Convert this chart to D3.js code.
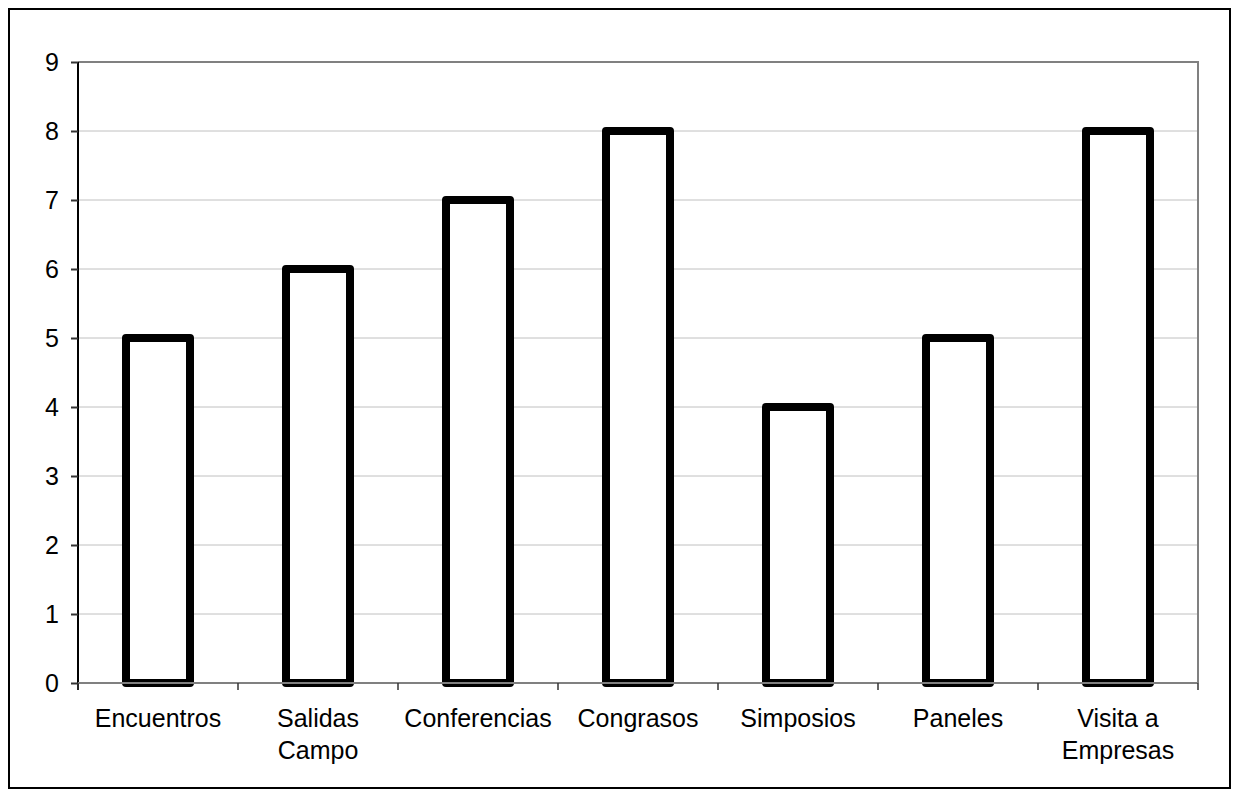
<!DOCTYPE html>
<html><head><meta charset="utf-8">
<script src="https://cdn.jsdelivr.net/npm/d3@7"></script>
<style>html,body{margin:0;padding:0;background:#fff;}svg{display:block;font-family:"Liberation Sans",Arial,sans-serif;}</style>
</head><body>
<svg id="c" width="1239" height="800"></svg>
<script>
const categories = [["Encuentros"],["Salidas","Campo"],["Conferencias"],["Congrasos"],["Simposios"],["Paneles"],["Visita a","Empresas"]];
const values = [5,6,7,8,4,5,8];
const yTicks = [0,1,2,3,4,5,6,7,8,9];

const svg = d3.select("#c");
const L = 78, R = 1198, T = 62, B = 683;
svg.append("rect").attr("x",9).attr("y",9).attr("width",1221).attr("height",779)
  .attr("fill","#fff").attr("stroke","#000").attr("stroke-width",2);

const x = d3.scaleBand().domain(d3.range(categories.length)).range([L,R]).paddingInner(0).paddingOuter(0);
const y = d3.scaleLinear().domain([0,9]).range([B,T]);

// gridlines
svg.append("g").selectAll("line").data(yTicks.filter(d=>d>0&&d<9)).join("line")
  .attr("x1",L).attr("x2",R).attr("y1",d=>y(d)).attr("y2",d=>y(d))
  .attr("stroke","#c0c0c0").attr("stroke-width",1);
// plot border top/right
svg.append("path").attr("d",`M${L},${T}H${R}V${B}`).attr("fill","none").attr("stroke","#808080").attr("stroke-width",2);

// bars
const bw = x.bandwidth()*0.4;
svg.append("g").selectAll("rect").data(values).join("rect")
  .attr("x",(d,i)=>x(i)+x.bandwidth()/2-bw/2).attr("width",bw)
  .attr("y",d=>y(d)).attr("height",d=>y(0)-y(d))
  .attr("fill","#fff").attr("stroke","#000").attr("stroke-width",8).attr("stroke-linejoin","round");

// y axis
const ya = d3.axisLeft(y).tickValues(yTicks).tickSize(7).tickPadding(12).tickFormat(d3.format("d"));
const gy = svg.append("g").attr("transform",`translate(${L},0)`).call(ya);
gy.select(".domain").attr("stroke","#000").attr("stroke-width",2).attr("d",`M0,${T}V${B+7}`);
gy.selectAll(".tick line").attr("stroke","#333").attr("stroke-width",2);
gy.selectAll(".tick text").attr("font-size",25).attr("fill","#000").attr("font-family","Liberation Sans, Arial, sans-serif");

// x axis
const gx = svg.append("g").attr("transform",`translate(0,${B})`);
gx.append("line").attr("x1",L).attr("x2",R).attr("stroke","#808080").attr("stroke-width",2);
const tickPos = d3.range(categories.length+1).map(i=> i<categories.length ? x(i) : R);
gx.selectAll("line.t").data(tickPos).join("line").attr("class","t")
  .attr("x1",d=>d).attr("x2",d=>d).attr("y1",0).attr("y2",7).attr("stroke","#333").attr("stroke-width",1.5);
const lab = gx.selectAll("text").data(categories).join("text")
  .attr("text-anchor","middle").attr("font-size",25).attr("fill","#000")
  .attr("transform",(d,i)=>`translate(${x(i)+x.bandwidth()/2},44)`);
lab.selectAll("tspan").data(d=>d).join("tspan").attr("x",0).attr("dy",(d,i)=>i===0?0:32).text(d=>d);
</script>
</body></html>
